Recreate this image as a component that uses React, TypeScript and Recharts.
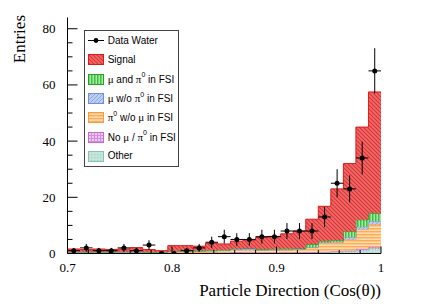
import React from 'react';
import { ComposedChart, Area, Scatter, ErrorBar, XAxis, YAxis, Legend } from 'recharts';

// ---- categories: bin edges of Cos(theta) ----
const binEdges = [
  0.7, 0.712, 0.724, 0.736, 0.748, 0.76, 0.772, 0.784, 0.796, 0.808, 0.82, 0.832, 0.844,
  0.856, 0.868, 0.88, 0.892, 0.904, 0.916, 0.928, 0.94, 0.952, 0.964, 0.976, 0.988, 1.0,
];

// ---- series values (per bin) ----
const dataWater = [1, 2, 1, 1, 2, 1, 3, 0, 0, 1, 2, 4, 6, 5, 5, 6, 6, 8, 8, 8, 13, 25, 23, 34, 65];
const signal = [0.95, 0.8, 0.95, 0.8, 0.95, 1.45, 0.85, 0.5, 1.9, 1.85, 1.65, 2.35, 2.05, 2.7, 2.9, 4.2, 4.5, 5.35, 6.2, 8.95, 12.35, 18.3, 24.2, 33.0, 43.2];
const muPi0 = [0.15, 0.15, 0.15, 0.15, 0.15, 0.15, 0.1, 0.1, 0.2, 0.2, 0.2, 0.3, 0.3, 0.2, 0.2, 0.3, 0.3, 0.3, 0.3, 1.0, 0.5, 0.5, 2.0, 2.5, 2.8];
const muNoPi0 = [0.05, 0.05, 0.05, 0.05, 0.05, 0.05, 0.05, 0.05, 0.1, 0.1, 0.1, 0.1, 0.1, 0.3, 0.6, 0.1, 0.1, 0.1, 0.15, 0.2, 0.3, 0.3, 0.8, 1.0, 1.2];
const pi0NoMu = [0.3, 0.25, 0.3, 0.25, 0.3, 0.3, 0.25, 0.2, 0.4, 0.45, 0.45, 0.6, 0.65, 0.7, 0.6, 0.75, 0.8, 0.85, 0.9, 1.5, 3.0, 3.1, 4.0, 6.8, 8.0];
const noMuPi0 = [0.05, 0.05, 0.05, 0.05, 0.05, 0.05, 0.05, 0.05, 0.1, 0.1, 0.1, 0.1, 0.15, 0.3, 0.2, 0.15, 0.2, 0.2, 0.2, 0.25, 0.25, 0.3, 0.3, 0.7, 0.5];
const other = [0.1, 0.1, 0.1, 0.1, 0.1, 0.1, 0.1, 0.1, 0.1, 0.1, 0.1, 0.15, 0.15, 0.2, 0.2, 0.2, 0.2, 0.2, 0.25, 0.3, 0.4, 0.5, 0.7, 1.0, 1.8];

// ---- tick labels ----
const xMajorTicks = [0.7, 0.8, 0.9, 1.0];
const xTickLabels = ['0.7', '0.8', '0.9', '1'];
const yMajorTicks = [0, 20, 40, 60, 80];
const yTickLabels = ['0', '20', '40', '60', '80'];
const xTitle = 'Particle Direction (Cos(\u03b8))';
const yTitle = 'Entries';

// ---- series config (stack order bottom -> top) ----
const stackSeries = [
  { key: 'other', name: 'Other', values: other, fill: 'url(#pOther)', stroke: '#86c4b0' },
  { key: 'noMuPi0', name: 'No \u03bc / \u03c0^0 in FSI', values: noMuPi0, fill: 'url(#pPurple)', stroke: '#c46ccf' },
  { key: 'pi0NoMu', name: '\u03c0^0 w/o \u03bc in FSI', values: pi0NoMu, fill: 'url(#pOrange)', stroke: '#ff9a3a' },
  { key: 'muNoPi0', name: '\u03bc w/o \u03c0^0 in FSI', values: muNoPi0, fill: 'url(#pBlue)', stroke: '#6f8fdc' },
  { key: 'muPi0', name: '\u03bc and \u03c0^0 in FSI', values: muPi0, fill: 'url(#pGreen)', stroke: '#1fa31f' },
  { key: 'signal', name: 'Signal', values: signal, fill: 'url(#pSig)', stroke: '#e01818' },
];
const legendOrder = ['signal', 'muPi0', 'muNoPi0', 'pi0NoMu', 'noMuPi0', 'other'];

const nBins = dataWater.length;
const histRows = binEdges.map((x, i) => {
  const b = Math.min(i, nBins - 1);
  const row: any = { x };
  stackSeries.forEach((s) => (row[s.key] = s.values[b]));
  return row;
});
const points = dataWater.map((y, i) => ({
  x: (binEdges[i] + binEdges[i + 1]) / 2,
  y,
  ey: Math.sqrt(y),
  ex: (binEdges[i + 1] - binEdges[i]) / 2,
}));

// minor tick positions
const xTicks: number[] = [];
for (let i = 0; i < xMajorTicks.length; i++) {
  xTicks.push(xMajorTicks[i]);
  if (i < xMajorTicks.length - 1) {
    const step = (xMajorTicks[i + 1] - xMajorTicks[i]) / 5;
    for (let k = 1; k < 5; k++) xTicks.push(+(xMajorTicks[i] + k * step).toFixed(4));
  }
}
const yTicks: number[] = [];
for (let i = 0; i < yMajorTicks.length; i++) {
  yTicks.push(yMajorTicks[i]);
  if (i < yMajorTicks.length - 1) {
    const step = (yMajorTicks[i + 1] - yMajorTicks[i]) / 4;
    for (let k = 1; k < 4; k++) yTicks.push(yMajorTicks[i] + k * step);
  }
}

const W = 424;
const H = 304;
const M = { top: 17.5, right: 43, bottom: 0, left: 0 };
const Y_AXIS_W = 67.5;
const X_AXIS_H = 50.5;
const SERIF = '"Liberation Serif", "Times New Roman", serif';
const SANS = '"Liberation Sans", Arial, sans-serif';

const xMajorIndex = (v: number) => xMajorTicks.findIndex((m) => Math.abs(m - v) < 1e-6);
const yMajorIndex = (v: number) => yMajorTicks.findIndex((m) => Math.abs(m - v) < 1e-6);

const BottomTick = (p: any) => {
  const idx = xMajorIndex(p.payload.value);
  const len = idx >= 0 ? 7 : 3.5;
  return (
    <g>
      <line x1={p.x} y1={p.y} x2={p.x} y2={p.y - len} stroke="#000" strokeWidth={1} />
      {idx >= 0 && (
        <text x={p.x} y={p.y + 9} dy="0.71em" textAnchor="middle" fontFamily={SERIF} fontSize={13} fill="#000">
          {xTickLabels[idx]}
        </text>
      )}
    </g>
  );
};
const TopTick = (p: any) => {
  const len = xMajorIndex(p.payload.value) >= 0 ? 7 : 3.5;
  return <line x1={p.x} y1={p.y} x2={p.x} y2={p.y + len} stroke="#000" strokeWidth={1} />;
};
const LeftTick = (p: any) => {
  const idx = yMajorIndex(p.payload.value);
  const len = idx >= 0 ? 10 : 5;
  return (
    <g>
      <line x1={p.x} y1={p.y} x2={p.x + len} y2={p.y} stroke="#000" strokeWidth={1} />
      {idx >= 0 && (
        <text x={p.x - 12} y={p.y} dy="0.35em" textAnchor="end" fontFamily={SERIF} fontSize={13} fill="#000">
          {yTickLabels[idx]}
        </text>
      )}
    </g>
  );
};
const RightTick = (p: any) => {
  const len = yMajorIndex(p.payload.value) >= 0 ? 10 : 5;
  return <line x1={p.x} y1={p.y} x2={p.x - len} y2={p.y} stroke="#000" strokeWidth={1} />;
};

const renderName = (name: string) => {
  const parts = name.split('^0');
  const out: any[] = [];
  parts.forEach((part, i) => {
    const chars = part.split(/([\u03bc\u03c0])/);
    chars.forEach((c, j) => {
      if (c === '\u03bc' || c === '\u03c0') out.push(<span key={`${i}-${j}`} style={{ fontFamily: SERIF, fontSize: 11 }}>{c}</span>);
      else if (c) out.push(<span key={`${i}-${j}`}>{c}</span>);
    });
    if (i < parts.length - 1) out.push(<sup key={`s${i}`} style={{ fontSize: 7, lineHeight: 0, position: 'relative', top: -1 }}>0</sup>);
  });
  return out;
};

const LegendBox = () => {
  const rowH = 135 / 7;
  const rowStyle: React.CSSProperties = { height: rowH, display: 'flex', alignItems: 'center', lineHeight: 1 };
  return (
    <div style={{ width: 95, height: 137, border: '1px solid #444', background: '#fff', boxSizing: 'border-box', fontFamily: SANS, fontSize: 10, color: '#000' }}>
      <div style={rowStyle}>
        <svg width={16} height={11} style={{ marginLeft: 3.3, display: 'block' }}>
          <line x1={0} y1={5.5} x2={16} y2={5.5} stroke="#000" strokeWidth={1} />
          <circle cx={8} cy={5.5} r={2.4} fill="#000" />
        </svg>
        <span style={{ marginLeft: 3.4 }}>Data Water</span>
      </div>
      {legendOrder.map((k) => {
        const s = stackSeries.find((q) => q.key === k)!;
        return (
          <div key={k} style={rowStyle}>
            <svg width={16} height={11} style={{ marginLeft: 3.3, display: 'block' }}>
              <rect x={0.5} y={0.5} width={15} height={10} fill={s.fill} stroke={s.stroke} strokeWidth={1} />
            </svg>
            <span style={{ marginLeft: 3.4, whiteSpace: 'nowrap' }}>{renderName(s.name)}</span>
          </div>
        );
      })}
    </div>
  );
};

export default function App() {
  return (
    <div style={{ position: 'absolute', left: 0, top: 0, width: W, height: H, background: '#fff' }}>
      <ComposedChart width={W} height={H} data={histRows} margin={M}>
        <defs>
          <pattern id="pSig" patternUnits="userSpaceOnUse" width="4" height="4">
            <rect width="4" height="4" fill="#f06a6a" />
            <path d="M-1,-1 L5,5 M-1,3 L1,5 M3,-1 L5,1" stroke="#d83434" strokeWidth="1.1" />
          </pattern>
          <pattern id="pGreen" patternUnits="userSpaceOnUse" width="3" height="3">
            <rect width="3" height="3" fill="#a6eaa6" />
            <rect x="0" width="1.5" height="3" fill="#3dbf3d" />
          </pattern>
          <pattern id="pBlue" patternUnits="userSpaceOnUse" width="4" height="4">
            <rect width="4" height="4" fill="#bccdf4" />
            <path d="M-1,5 L5,-1 M-1,1 L1,-1 M3,5 L5,3" stroke="#8ea8e6" strokeWidth="1" />
          </pattern>
          <pattern id="pOrange" patternUnits="userSpaceOnUse" width="3" height="3">
            <rect width="3" height="3" fill="#ffdcae" />
            <rect y="0" width="3" height="1.4" fill="#ffac58" />
          </pattern>
          <pattern id="pPurple" patternUnits="userSpaceOnUse" width="3" height="3">
            <rect width="3" height="3" fill="#ecc6f0" />
            <path d="M0,0.5 L3,0.5 M0.5,0 L0.5,3" stroke="#cf8fd9" strokeWidth="1" />
          </pattern>
          <pattern id="pOther" patternUnits="userSpaceOnUse" width="3" height="3">
            <rect width="3" height="3" fill="#c6e5dc" />
            <rect x="0" y="0" width="1.3" height="1.3" fill="#a2d0c2" />
          </pattern>
        </defs>

        <XAxis
          xAxisId={0}
          dataKey="x"
          type="number"
          domain={[0.7, 1.0]}
          allowDataOverflow
          ticks={xTicks}
          interval={0}
          tickSize={0}
          tickMargin={0}
          tickLine={false}
          axisLine={{ stroke: '#000' }}
          tick={BottomTick}
          height={X_AXIS_H}
          label={() => (
            <text x={W - M.right} y={296} textAnchor="end" fontFamily={SERIF} fontSize={17} fill="#000">
              {xTitle}
            </text>
          )}
        />
        <XAxis
          xAxisId="top"
          orientation="top"
          dataKey="x"
          type="number"
          domain={[0.7, 1.0]}
          allowDataOverflow
          ticks={xTicks}
          interval={0}
          tickSize={0}
          tickMargin={0}
          tickLine={false}
          axisLine={{ stroke: '#000' }}
          tick={TopTick}
          height={0}
        />
        <YAxis
          yAxisId={0}
          type="number"
          domain={[0, 84]}
          allowDataOverflow
          ticks={yTicks}
          interval={0}
          tickSize={0}
          tickMargin={0}
          tickLine={false}
          axisLine={{ stroke: '#000' }}
          tick={LeftTick}
          width={Y_AXIS_W}
          label={() => (
            <text x={25} y={15} transform="rotate(-90 25 15)" textAnchor="end" fontFamily={SERIF} fontSize={17} fill="#000">
              {yTitle}
            </text>
          )}
        />
        <YAxis
          yAxisId="right"
          orientation="right"
          type="number"
          domain={[0, 84]}
          allowDataOverflow
          ticks={yTicks}
          interval={0}
          tickSize={0}
          tickMargin={0}
          tickLine={false}
          axisLine={{ stroke: '#000' }}
          tick={RightTick}
          width={0}
        />

        {stackSeries.map((s) => (
          <Area
            key={s.key}
            dataKey={s.key}
            name={s.name}
            stackId="mc"
            type="stepAfter"
            fill={s.fill}
            fillOpacity={1}
            stroke={s.stroke}
            strokeWidth={1}
            dot={false}
            activeDot={false}
            isAnimationActive={false}
          />
        ))}

        <Scatter
          data={points}
          dataKey="y"
          name="Data Water"
          isAnimationActive={false}
          shape={(p: any) => <circle cx={p.cx} cy={p.cy} r={2.5} fill="#000" />}
        >
          <ErrorBar dataKey="ey" direction="y" width={0} stroke="#000" strokeWidth={1} isAnimationActive={false} />
          <ErrorBar dataKey="ex" direction="x" width={0} stroke="#000" strokeWidth={1} isAnimationActive={false} />
        </Scatter>

        <Legend
          layout="vertical"
          align="center"
          verticalAlign="middle"
          content={() => <LegendBox />}
          wrapperStyle={{ left: 84, top: 30, width: 95, height: 137, margin: 0, padding: 0 }}
        />
      </ComposedChart>
    </div>
  );
}
